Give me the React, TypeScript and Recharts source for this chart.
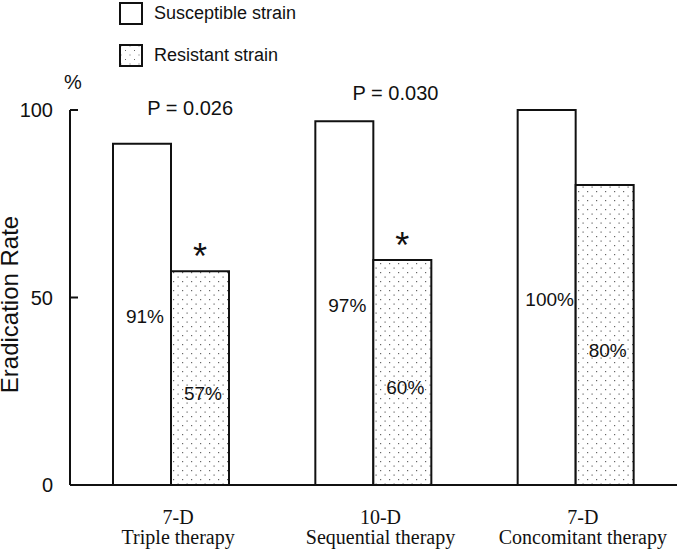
import React from "react";
import {
  Bar,
  BarChart,
  LabelList,
  Legend,
  ReferenceDot,
  XAxis,
  YAxis
} from "recharts";

const groups = ["Triple therapy", "Sequential therapy", "Concomitant therapy"];
const durations = ["7-D", "10-D", "7-D"];
const susceptible = [91, 97, 100];
const resistant = [57, 60, 80];
const significance = ["*", "*", ""];
const pNotes = ["P = 0.026", "P = 0.030"];
const yTicks = [0, 50, 100];

const series = [
  { key: "susceptible", label: "Susceptible strain", fill: "#ffffff" },
  { key: "resistant", label: "Resistant strain", fill: "url(#dots)" }
];

const data = groups.map((group, i) => ({
  group,
  duration: durations[i],
  susceptible: susceptible[i],
  resistant: resistant[i],
  sig: significance[i]
}));

const SANS = "'Liberation Sans', Arial, sans-serif";
const SERIF = "'Liberation Serif', 'Times New Roman', serif";

function YTick({ x, y, payload }: any) {
  return (
    <g>
      <text x={x} y={y} dy="0.355em" textAnchor="end" fontSize={20} fontFamily={SANS} fill="#111">
        {payload.value}
      </text>
      <line x1={x + 17} x2={x + 25} y1={y} y2={y} stroke="#111" strokeWidth={2} />
    </g>
  );
}

function XTick({ x, y, payload }: any) {
  const i = payload.index;
  return (
    <g fontFamily={SERIF} fontSize={20} fill="#111" textAnchor="middle">
      <text x={x + 7} y={y + 39}>{durations[i]}</text>
      <text x={x + 7} y={y + 59}>{groups[i]}</text>
    </g>
  );
}

function YLabel({ viewBox }: any) {
  const cx = viewBox.x + 8;
  const cy = viewBox.y + viewBox.height / 2 + 7;
  return (
    <g fontFamily={SANS} fill="#111">
      <text x={cx} y={cy} textAnchor="middle" fontSize={24} transform={`rotate(-90, ${cx}, ${cy})`}>
        Eradication Rate
      </text>
      <text x={viewBox.x + viewBox.width + 3} y={viewBox.y - 21} textAnchor="middle" fontSize={20}>
        %
      </text>
    </g>
  );
}

function percentLabel(shift: number) {
  return ({ x, y, width, height, value }: any) => (
    <text
      x={x + width / 2 + 3}
      y={y + height / 2 + shift}
      dy="0.355em"
      textAnchor="middle"
      fontSize={19}
      fontFamily={SANS}
      fill="#111"
    >
      {value}%
    </text>
  );
}

function starLabel({ x, y, width, value }: any) {
  if (!value) return null;
  return (
    <text x={x + width / 2} y={y - 2} textAnchor="middle" fontSize={36} fontFamily={SANS} fill="#111">
      {value}
    </text>
  );
}

function LegendBox() {
  return (
    <div style={{ fontFamily: SANS, fontSize: 18, color: "#111" }}>
      {series.map((s, i) => (
        <div key={s.key} style={{ display: "flex", alignItems: "center", height: 23, marginBottom: i === 0 ? 19 : 0 }}>
          <div
            style={{
              width: 24,
              height: 23,
              boxSizing: "border-box",
              border: "2px solid #111",
              background: "#fff",
              backgroundImage:
                s.key === "resistant"
                  ? "radial-gradient(#666 0.7px, transparent 1px), radial-gradient(#666 0.7px, transparent 1px)"
                  : "none",
              backgroundSize: "9px 9px",
              backgroundPosition: "0 0, 4.5px 4.5px",
              marginRight: 11
            }}
          />
          <span>{s.label}</span>
        </div>
      ))}
    </div>
  );
}

export default function App() {
  return (
    <div style={{ position: "absolute", left: 0, top: 0, width: 680, height: 557, background: "#fff" }}>
      <BarChart
        width={680}
        height={557}
        data={data}
        margin={{ top: 110, right: 3, bottom: 0, left: 10 }}
        barSize={58}
        barGap={0}
      >
        <defs>
          <pattern id="dots" width="9" height="9" patternUnits="userSpaceOnUse">
            <rect width="9" height="9" fill="#fff" />
            <rect x="2" y="2" width="1.2" height="1.2" fill="#666" />
            <rect x="6.5" y="6.5" width="1.2" height="1.2" fill="#666" />
          </pattern>
        </defs>
        <XAxis
          dataKey="group"
          height={72}
          tickLine={false}
          tickSize={0}
          tickMargin={0}
          interval={0}
          axisLine={{ stroke: "#111", strokeWidth: 2 }}
          tick={(p: any) => <XTick {...p} />}
        />
        <YAxis
          width={60}
          domain={[0, 100]}
          ticks={yTicks}
          tickLine={false}
          tickSize={0}
          tickMargin={17}
          axisLine={{ stroke: "#111", strokeWidth: 2 }}
          tick={(p: any) => <YTick {...p} />}
          label={{ content: (p: any) => <YLabel {...p} /> }}
        />
        <Legend
          layout="vertical"
          align="center"
          verticalAlign="middle"
          content={() => <LegendBox />}
          wrapperStyle={{ left: 119, top: 2, width: 220, height: 70 }}
        />
        <Bar dataKey="susceptible" name={series[0].label} fill={series[0].fill} stroke="#111" strokeWidth={2} isAnimationActive={false}>
          <LabelList dataKey="susceptible" content={percentLabel(2)} />
        </Bar>
        <Bar dataKey="resistant" name={series[1].label} fill={series[1].fill} stroke="#111" strokeWidth={2} isAnimationActive={false}>
          <LabelList dataKey="resistant" content={percentLabel(15)} />
          <LabelList dataKey="sig" content={starLabel} />
        </Bar>
        <ReferenceDot
          x={groups[0]}
          y={100.5}
          r={0}
          fill="none"
          stroke="none"
          ifOverflow="visible"
          label={{ content: ({ viewBox }: any) => (
            <text x={viewBox.x + 19} y={viewBox.y} dy="0.355em" textAnchor="middle" fontSize={20} fontFamily={SANS} fill="#111">
              {pNotes[0]}
            </text>
          ) }}
        />
        <ReferenceDot
          x={groups[1]}
          y={104.5}
          r={0}
          fill="none"
          stroke="none"
          ifOverflow="visible"
          label={{ content: ({ viewBox }: any) => (
            <text x={viewBox.x + 22} y={viewBox.y} dy="0.355em" textAnchor="middle" fontSize={20} fontFamily={SANS} fill="#111">
              {pNotes[1]}
            </text>
          ) }}
        />
      </BarChart>
    </div>
  );
}
